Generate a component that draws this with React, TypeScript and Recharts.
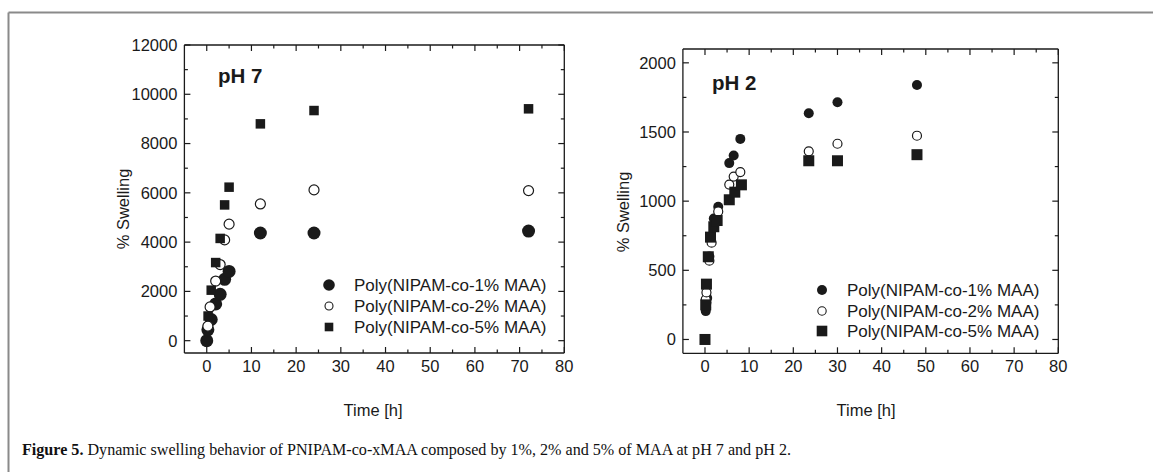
import React from 'react';
import { ScatterChart, Scatter, XAxis, YAxis } from 'recharts';

// ---------- data ----------
// pH 7
const t7_1 = [0, 0.25, 1, 2, 3, 4, 5, 12, 24, 72];
const v7_1 = [0, 440, 860, 1490, 1880, 2490, 2810, 4370, 4370, 4450];
const t7_2 = [0.25, 0.75, 2, 3, 4, 5, 12, 24, 72];
const v7_2 = [590, 1370, 2420, 3090, 4090, 4730, 5550, 6120, 6090];
const t7_5 = [0.3, 1, 2, 3, 4, 5, 12, 24, 72];
const v7_5 = [1000, 2050, 3170, 4150, 5510, 6230, 8800, 9340, 9410];
// pH 2
const t2_1 = [0.17, 0.25, 0.33, 0.5, 1, 2, 3, 5.5, 6.5, 8, 23.5, 30, 48];
const v2_1 = [205, 230, 265, 300, 600, 875, 960, 1275, 1330, 1450, 1635, 1715, 1840];
const t2_2 = [0.17, 0.33, 1, 1.5, 3, 5.5, 6.5, 8, 23.5, 30, 48];
const v2_2 = [290, 340, 570, 700, 925, 1120, 1178, 1210, 1360, 1415, 1473];
const t2_5 = [0, 0.17, 0.33, 0.75, 1.25, 2, 2.75, 5.5, 6.75, 8.25, 23.5, 30, 48];
const v2_5 = [0, 250, 400, 598, 740, 815, 860, 1010, 1065, 1118, 1292, 1292, 1336];

const seriesNames = ['Poly(NIPAM-co-1% MAA)', 'Poly(NIPAM-co-2% MAA)', 'Poly(NIPAM-co-5% MAA)'];
const xTicks = [0, 5, 10, 15, 20, 25, 30, 35, 40, 45, 50, 55, 60, 65, 70, 75, 80];
const yTicks7 = [0, 1000, 2000, 3000, 4000, 5000, 6000, 7000, 8000, 9000, 10000, 11000, 12000];
const yTicks2 = [0, 250, 500, 750, 1000, 1250, 1500, 1750, 2000];
const caption = 'Dynamic swelling behavior of PNIPAM-co-xMAA composed by 1%, 2% and 5% of MAA at pH 7 and pH 2.';

const zip = (t: number[], v: number[]) => t.map((x, i) => ({ x, y: v[i] }));

const FONT = '"Liberation Sans", Arial, sans-serif';
const INK = '#1a1a1a';
const CW = 600;
const CH = 400;
const XH = 30;
const YW = 60;

// axisPos: the pixel coordinate of the axis line (y for horizontal axes, x for vertical axes)
function makeTick(orient: string, major: number, labels: boolean, axisPos: number) {
  return (props: any) => {
    const { x, y, payload } = props;
    const v = payload.value;
    const isMajor = Math.abs(v / major - Math.round(v / major)) < 1e-6;
    const len = isMajor ? 6 : 3.5;
    let line = null;
    let label = null;
    if (orient === 'bottom') {
      line = <line x1={x} x2={x} y1={axisPos} y2={axisPos - len} stroke={INK} strokeWidth={1.2} />;
      if (labels && isMajor)
        label = (
          <text x={x} y={axisPos + 7} dy="0.71em" textAnchor="middle" fontFamily={FONT} fontSize={16.5} fill={INK}>
            {v}
          </text>
        );
    } else if (orient === 'top') {
      line = <line x1={x} x2={x} y1={axisPos} y2={axisPos + len} stroke={INK} strokeWidth={1.2} />;
    } else if (orient === 'left') {
      line = <line x1={axisPos} x2={axisPos + len} y1={y} y2={y} stroke={INK} strokeWidth={1.2} />;
      if (labels && isMajor)
        label = (
          <text x={axisPos - 7} y={y} dy="0.355em" textAnchor="end" fontFamily={FONT} fontSize={16.5} fill={INK}>
            {v}
          </text>
        );
    } else {
      line = <line x1={axisPos} x2={axisPos - len} y1={y} y2={y} stroke={INK} strokeWidth={1.2} />;
    }
    return (
      <g>
        {line}
        {label}
      </g>
    );
  };
}

const filledCircle = (r: number) => (p: any) => <circle cx={p.cx} cy={p.cy} r={r} fill={INK} />;
const openCircle = (r: number) => (p: any) => (
  <circle cx={p.cx} cy={p.cy} r={r} fill="#fff" stroke={INK} strokeWidth={1.2} />
);
const square = (s: number) => (p: any) => (
  <rect x={p.cx - s / 2} y={p.cy - s / 2} width={s} height={s} fill={INK} />
);

type PanelProps = {
  left: number;
  plot: { l: number; r: number; t: number; b: number };
  yDomain: number[];
  yTicks: number[];
  yMajor: number;
  s1: any[];
  s2: any[];
  s5: any[];
  shapes: any[];
};

function Panel({ left, plot, yDomain, yTicks, yMajor, s1, s2, s5, shapes }: PanelProps) {
  const axisLine = { stroke: INK, strokeWidth: 1.3 };
  const margin = {
    top: plot.t - 1,
    right: CW - plot.r - 1,
    bottom: CH - plot.b - XH,
    left: plot.l - YW,
  };
  return (
    <div style={{ position: 'absolute', left, top: 0 }}>
      <ScatterChart width={CW} height={CH} margin={margin}>
        <XAxis
          xAxisId="b"
          type="number"
          dataKey="x"
          orientation="bottom"
          domain={[-5, 80]}
          ticks={xTicks}
          interval={0}
          height={XH}
          tickLine={false}
          axisLine={axisLine}
          tick={makeTick('bottom', 10, true, plot.b)}
          allowDataOverflow
        />
        <XAxis
          xAxisId="t"
          type="number"
          dataKey="x"
          orientation="top"
          domain={[-5, 80]}
          ticks={xTicks}
          interval={0}
          height={1}
          tickSize={0}
          tickMargin={0}
          tickLine={false}
          axisLine={axisLine}
          tick={makeTick('top', 10, false, plot.t)}
          allowDataOverflow
        />
        <YAxis
          yAxisId="l"
          type="number"
          dataKey="y"
          orientation="left"
          domain={yDomain}
          ticks={yTicks}
          interval={0}
          width={YW}
          tickLine={false}
          axisLine={axisLine}
          tick={makeTick('left', yMajor, true, plot.l)}
          allowDataOverflow
        />
        <YAxis
          yAxisId="r"
          type="number"
          dataKey="y"
          orientation="right"
          domain={yDomain}
          ticks={yTicks}
          interval={0}
          width={1}
          tickSize={0}
          tickMargin={0}
          tickLine={false}
          axisLine={axisLine}
          tick={makeTick('right', yMajor, false, plot.r)}
          allowDataOverflow
        />
        <Scatter xAxisId="b" yAxisId="l" data={s1} shape={shapes[0]} isAnimationActive={false} />
        <Scatter xAxisId="b" yAxisId="l" data={s2} shape={shapes[1]} isAnimationActive={false} />
        <Scatter xAxisId="b" yAxisId="l" data={s5} shape={shapes[2]} isAnimationActive={false} />
      </ScatterChart>
    </div>
  );
}

function LegendBlock({ sx, tx, rows, syms }: { sx: number; tx: number; rows: number[]; syms: any[] }) {
  return (
    <g>
      {seriesNames.map((n, i) => (
        <g key={n}>
          {syms[i](sx, rows[i])}
          <text x={tx} y={rows[i]} dy="0.355em" fontFamily={FONT} fontSize={17} fill={INK}>
            {n}
          </text>
        </g>
      ))}
    </g>
  );
}

export default function App() {
  const leftSyms = [
    (x: number, y: number) => <circle cx={x} cy={y} r={5.8} fill={INK} />,
    (x: number, y: number) => <circle cx={x} cy={y} r={4} fill="#fff" stroke={INK} strokeWidth={1.1} />,
    (x: number, y: number) => <rect x={x - 4.3} y={y - 4.3} width={8.6} height={8.6} fill={INK} />,
  ];
  const rightSyms = [
    (x: number, y: number) => <circle cx={x} cy={y} r={5} fill={INK} />,
    (x: number, y: number) => <circle cx={x} cy={y} r={4.2} fill="#fff" stroke={INK} strokeWidth={1.1} />,
    (x: number, y: number) => <rect x={x - 5.3} y={y - 5.3} width={10.6} height={10.6} fill={INK} />,
  ];
  return (
    <div style={{ position: 'absolute', left: 0, top: 0, width: 1153, height: 472, background: '#fff', overflow: 'hidden' }}>
      <svg width={1153} height={472} style={{ position: 'absolute', left: 0, top: 0 }}>
        <line x1={8.5} x2={1153} y1={12.5} y2={12.5} stroke="#8a8a8a" strokeWidth={2} />
        <line x1={8.5} x2={8.5} y1={12.5} y2={472} stroke="#8a8a8a" strokeWidth={2} />
        <text
          x={22}
          y={455}
          textLength={769}
          lengthAdjust="spacingAndGlyphs"
          fontFamily='"Liberation Serif", "Times New Roman", serif'
          fontSize={16.5}
          fill="#111"
        >
          <tspan fontWeight="bold">Figure 5.</tspan>
          <tspan> {caption}</tspan>
        </text>
      </svg>
      <Panel
        left={0}
        plot={{ l: 184.4, r: 564.3, t: 45, b: 353 }}
        yDomain={[-500, 12000]}
        yTicks={yTicks7}
        yMajor={2000}
        s1={zip(t7_1, v7_1)}
        s2={zip(t7_2, v7_2)}
        s5={zip(t7_5, v7_5)}
        shapes={[filledCircle(6.5), openCircle(5), square(9.5)]}
      />
      <Panel
        left={500}
        plot={{ l: 182.9, r: 558.3, t: 49, b: 353.3 }}
        yDomain={[-100, 2100]}
        yTicks={yTicks2}
        yMajor={500}
        s1={zip(t2_1, v2_1)}
        s2={zip(t2_2, v2_2)}
        s5={zip(t2_5, v2_5)}
        shapes={[filledCircle(5), openCircle(4.5), square(11)]}
      />
      <svg width={1153} height={472} style={{ position: 'absolute', left: 0, top: 0, pointerEvents: 'none' }}>
        <text x={218} y={83} fontFamily={FONT} fontSize={20.5} fontWeight="bold" fill={INK}>pH 7</text>
        <text x={712} y={90} fontFamily={FONT} fontSize={20.5} fontWeight="bold" fill={INK}>pH 2</text>
        <text x={0} y={0} transform="translate(123,209) rotate(-90)" dy="0.355em" textAnchor="middle" fontFamily={FONT} fontSize={16.5} fill={INK}>% Swelling</text>
        <text x={0} y={0} transform="translate(623,212) rotate(-90)" dy="0.355em" textAnchor="middle" fontFamily={FONT} fontSize={16.5} fill={INK}>% Swelling</text>
        <text x={373} y={410} dy="0.355em" textAnchor="middle" fontFamily={FONT} fontSize={16.5} fill={INK}>Time [h]</text>
        <text x={866} y={410} dy="0.355em" textAnchor="middle" fontFamily={FONT} fontSize={16.5} fill={INK}>Time [h]</text>
        <LegendBlock sx={329} tx={354} rows={[285, 306, 327]} syms={leftSyms} />
        <LegendBlock sx={822} tx={847} rows={[290, 311, 331]} syms={rightSyms} />
      </svg>
    </div>
  );
}
